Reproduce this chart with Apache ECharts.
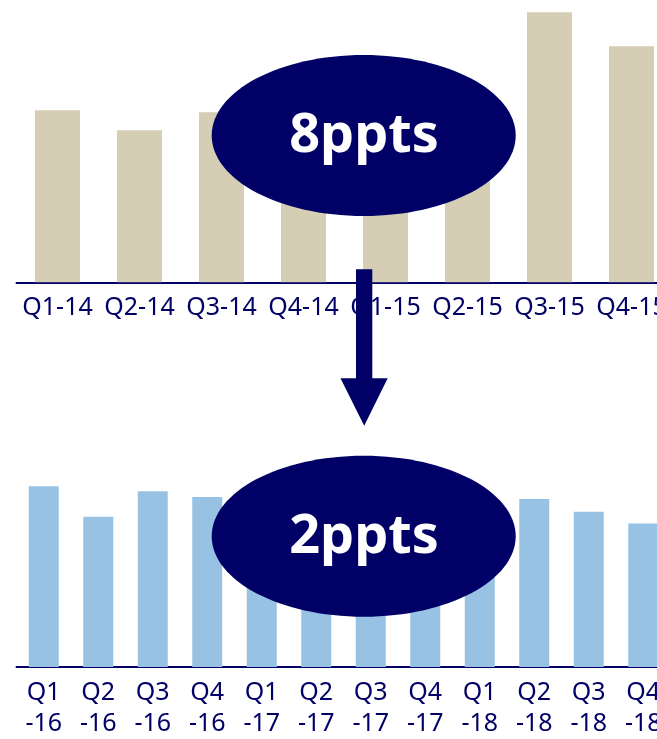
<!DOCTYPE html>
<html>
<head>
<meta charset="utf-8">
<script src="https://cdn.jsdelivr.net/npm/echarts@6/dist/echarts.min.js"></script>
<style>
html,body{margin:0;padding:0;background:#fff;overflow:hidden;width:657px;height:739px;}
#chart{width:680px;height:739px;}
</style>
</head>
<body>
<div id="chart"></div>
<script>
// Top panel (2014-2015)
var topCategories = ['Q1-14','Q2-14','Q3-14','Q4-14','Q1-15','Q2-15','Q3-15','Q4-15'];
var topValues = [17.2, 15.2, 17.0, 14.0, 13.5, 16.0, 27.0, 23.6];
// Bottom panel (2016-2018)
var bottomCategories = ['Q1-16','Q2-16','Q3-16','Q4-16','Q1-17','Q2-17','Q3-17','Q4-17','Q1-18','Q2-18','Q3-18','Q4-18'];
var bottomValues = [18.4, 15.3, 17.9, 17.3, 16.5, 16.0, 15.8, 16.3, 16.5, 17.1, 15.8, 14.6];
// Annotations
var topCallout = '8ppts';
var bottomCallout = '2ppts';

var NAVY = '#000066';
var chart = echarts.init(document.getElementById('chart'), null, {renderer: 'canvas'});

var labelStyle = {
  interval: 0,
  color: NAVY,
  fontFamily: 'Noto Sans',
  fontSize: 25,
  lineHeight: 31,
  margin: 10,
  hideOverlap: false
};

var option = {
  animation: false,
  grid: [
    {left: 16.5, top: 2.3, width: 656, height: 280, containLabel: false},
    {left: 16.5, top: 392, width: 654, height: 280, containLabel: false}
  ],
  xAxis: [
    {
      type: 'category', gridIndex: 0, data: topCategories,
      axisLine: {show: true, lineStyle: {color: NAVY, width: 2}},
      axisTick: {show: false},
      axisLabel: labelStyle
    },
    {
      type: 'category', gridIndex: 1, data: bottomCategories,
      axisLine: {show: true, lineStyle: {color: NAVY, width: 2}},
      axisTick: {show: false},
      axisLabel: Object.assign({}, labelStyle, {
        formatter: function (v) { var i = v.indexOf('-'); return v.slice(0, i) + '\n' + v.slice(i); }
      })
    }
  ],
  yAxis: [
    {type: 'value', gridIndex: 0, min: 0, max: 28, show: false, splitLine: {show: false}},
    {type: 'value', gridIndex: 1, min: 0, max: 28, show: false, splitLine: {show: false}}
  ],
  series: [
    {type: 'bar', xAxisIndex: 0, yAxisIndex: 0, data: topValues, barWidth: 45,
     itemStyle: {color: '#D5CDB4'}, silent: true},
    {type: 'bar', xAxisIndex: 1, yAxisIndex: 1, data: bottomValues, barWidth: 30,
     itemStyle: {color: '#98C2E3'}, silent: true}
  ],
  graphic: [
    {type: 'ellipse', z: 100, shape: {cx: 363.7, cy: 135.5, rx: 152, ry: 80.5}, style: {fill: NAVY}},
    {type: 'text', z: 101, x: 364, y: 137,
     style: {text: topCallout, fill: '#fff', font: 'bold 54px "Noto Sans"', textAlign: 'center', textVerticalAlign: 'middle'}},
    {type: 'ellipse', z: 100, shape: {cx: 363.7, cy: 536.2, rx: 152, ry: 80.5}, style: {fill: NAVY}},
    {type: 'text', z: 101, x: 364, y: 538,
     style: {text: bottomCallout, fill: '#fff', font: 'bold 54px "Noto Sans"', textAlign: 'center', textVerticalAlign: 'middle'}},
    {type: 'polygon', z: 100,
     shape: {points: [[356, 269.3], [372.3, 269.3], [372.3, 378.3], [387.7, 378.3], [364.2, 425.7], [340.5, 378.3], [356, 378.3]]},
     style: {fill: NAVY}}
  ]
};
chart.setOption(option);
</script>
</body>
</html>
